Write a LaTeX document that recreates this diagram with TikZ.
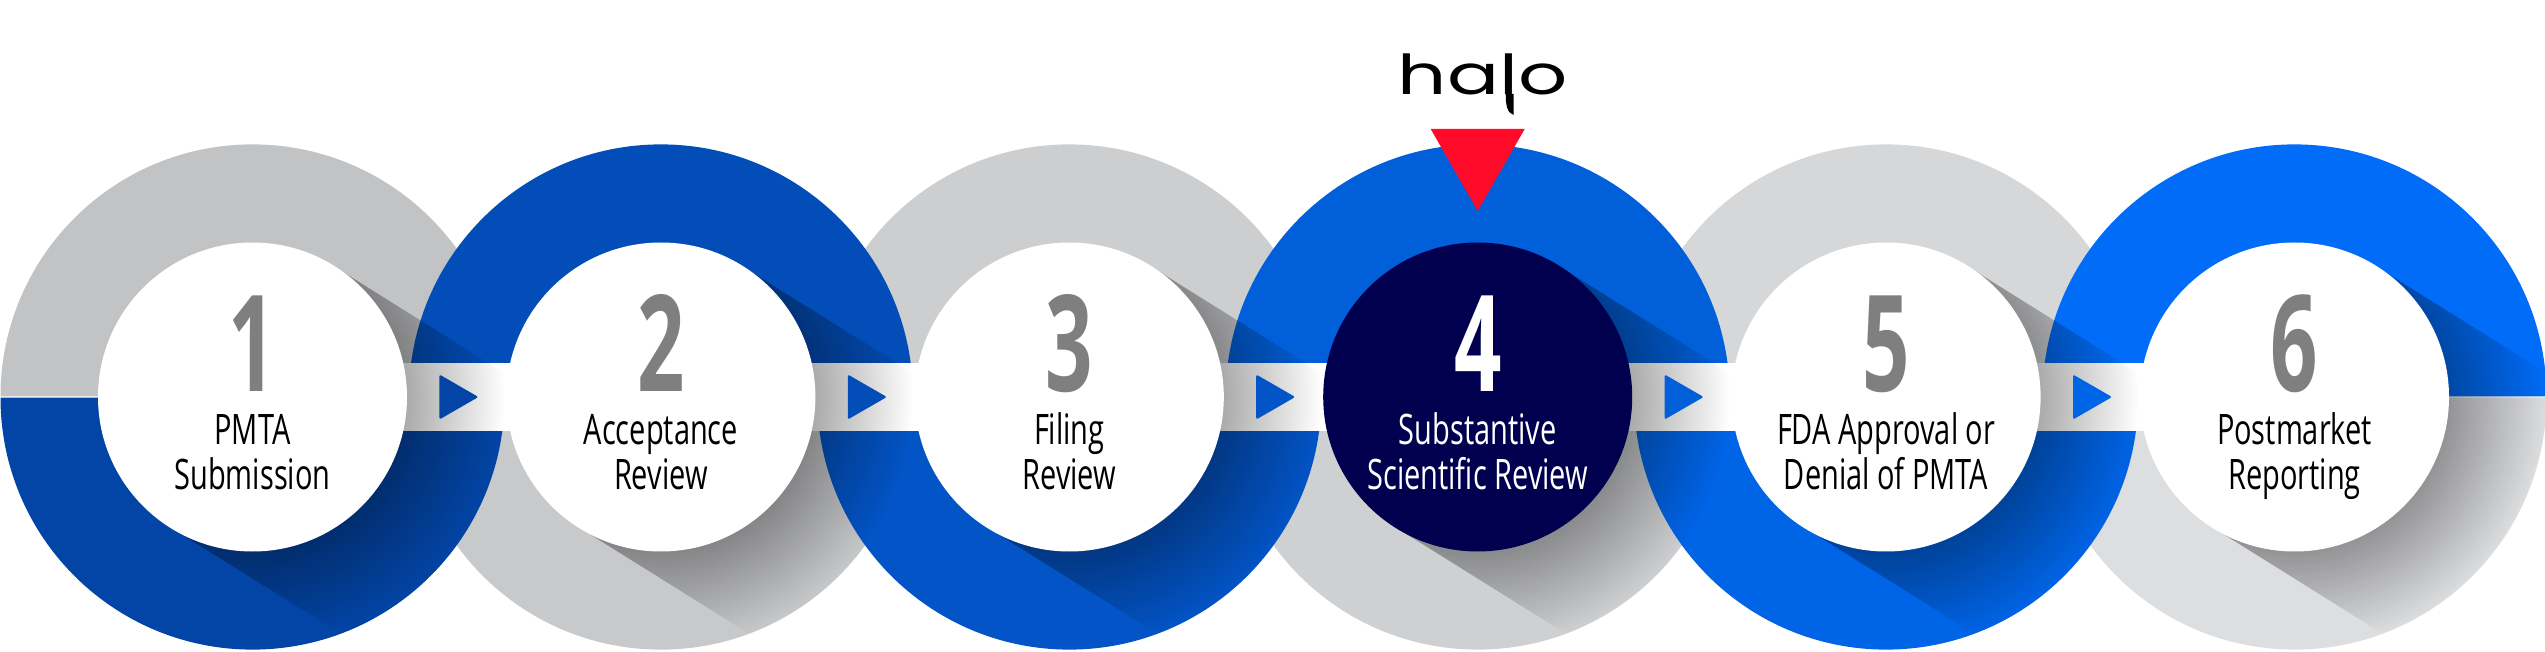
\documentclass[tikz,border=0pt]{standalone}
\usepackage{fontspec}
\usetikzlibrary{positioning,shapes.geometric,backgrounds,fadings}
\newfontfamily\labelfont[FakeStretch=0.69]{Open Sans}
\newfontfamily\numberfont[FakeStretch=0.62]{Open Sans Bold}
\newfontfamily\logofont[FakeStretch=1.4]{Poppins}
\definecolor{grayA}{HTML}{C2C3C5}
\definecolor{grayB}{HTML}{C8C9CB}
\definecolor{grayC}{HTML}{CDCED0}
\definecolor{grayD}{HTML}{CFD0D2}
\definecolor{grayE}{HTML}{D6D7D9}
\definecolor{grayF}{HTML}{DDDEE0}
\definecolor{blueA}{HTML}{0345A6}
\definecolor{blueB}{HTML}{034DB8}
\definecolor{blueC}{HTML}{0354C6}
\definecolor{blueD}{HTML}{005FD9}
\definecolor{blueE}{HTML}{0064E6}
\definecolor{blueF}{HTML}{006CF8}
\definecolor{navy}{HTML}{00004F}
\definecolor{marker}{HTML}{FF0A28}
\definecolor{numgray}{HTML}{7F7F7F}
\pgfdeclareradialshading{ringshade}{\pgfpointorigin}{
  color(0bp)=(pgftransparent!67);
  color(15.3bp)=(pgftransparent!67);
  color(25bp)=(pgftransparent!100);
  color(50bp)=(pgftransparent!100)}
\pgfdeclarefading{ringfade}{\pgfuseshading{ringshade}}
\newcommand{\halfup}[2]{\fill[#2] ([shift={(252pt,0.6pt)}]#1.center) arc (0:180:252pt) -- cycle;}
\newcommand{\halfdown}[2]{\fill[#2] ([shift={(252pt,-0.6pt)}]#1.center) arc (0:-180:252pt) -- cycle;}
\newcommand{\ringshadow}[1]{%
  \begin{scope}
    \clip (#1.center) ++(58:154pt) -- ++(-32:420pt) -- ++(-122:308pt) -- ++(148:420pt) -- cycle;
    \fill[black, path fading=ringfade] (#1.center) circle (252pt);
  \end{scope}}
\tikzset{
  stepcircle/.style={
    circle,
    fill=white,
    inner sep=0pt,
    minimum size=309pt
  },
  stepnum/.style={
    anchor=base,
    inner sep=0pt,
    text=numgray,
    font=\numberfont\fontsize{134}{134}\selectfont
  },
  steplabel/.style={
    anchor=base,
    inner sep=0pt,
    align=center,
    font=\labelfont\fontsize{42}{45}\selectfont
  },
  flowtip/.style={
    isosceles triangle,
    isosceles triangle stretches,
    rounded corners=2pt,
    inner sep=0pt,
    minimum width=45pt,
    minimum height=39pt
  },
  band/.style={
    fill=white
  }
}
\begin{document}
\begin{tikzpicture}[x=1pt,y=1pt]
  \useasboundingbox (0,0) rectangle (2545,651);

  \node[stepcircle] (c1) at (252.5,254) {};
  \node[stepcircle, right=99pt of c1] (c2) {};
  \node[stepcircle, right=99pt of c2] (c3) {};
  \node[stepcircle, right=99pt of c3, fill=navy] (c4) {};
  \node[stepcircle, right=99pt of c4] (c5) {};
  \node[stepcircle, right=99pt of c5] (c6) {};

  \node[flowtip, fill=blueA, right=32pt of c1] (t1) {};
  \node[flowtip, fill=blueB, right=32pt of c2] (t2) {};
  \node[flowtip, fill=blueC, right=32pt of c3] (t3) {};
  \node[flowtip, fill=blueD, right=32pt of c4] (t4) {};
  \node[flowtip, fill=blueE, right=32pt of c5] (t5) {};

  \node[stepnum] (n1) at ([yshift=5pt]c1.center) {1};
  \node[stepnum] (n2) at ([yshift=5pt]c2.center) {2};
  \node[stepnum] (n3) at ([yshift=5pt]c3.center) {3};
  \node[stepnum, text=white] (n4) at ([yshift=5pt]c4.center) {4};
  \node[stepnum] (n5) at ([yshift=5pt]c5.center) {5};
  \node[stepnum] (n6) at ([yshift=5pt]c6.center) {6};

  \node[steplabel] (l1) at ([yshift=-92pt]c1.center) {PMTA\\Submission};
  \node[steplabel] (l2) at ([yshift=-92pt]c2.center) {Acceptance\\Review};
  \node[steplabel] (l3) at ([yshift=-92pt]c3.center) {Filing\\Review};
  \node[steplabel, text=white] (l4) at ([yshift=-92pt]c4.center) {Substantive\\Scientific Review};
  \node[steplabel] (l5) at ([yshift=-92pt]c5.center) {FDA Approval or\\Denial of PMTA};
  \node[steplabel] (l6) at ([yshift=-92pt]c6.center) {Postmarket\\Reporting};

  \fill[marker] ([shift={(-47pt,268pt)}]c4.center) -- ([shift={(47pt,268pt)}]c4.center) -- ([shift={(0pt,186pt)}]c4.center) -- cycle;
  \node[anchor=base, inner sep=0pt, font=\logofont\fontsize{55}{55}\selectfont] (logo) at ([shift={(5pt,302pt)}]c4.center) {halo};
  % tail of the l
  \fill ([shift={(28pt,303pt)}]c4.center) .. controls ([shift={(28pt,290pt)}]c4.center) and ([shift={(30pt,284pt)}]c4.center) .. ([shift={(36pt,282pt)}]c4.center) -- ([shift={(36pt,303pt)}]c4.center) -- cycle;

  \begin{scope}[on background layer]
    \halfup{c1}{grayA}
    \halfdown{c2}{grayB}
    \halfup{c3}{grayC}
    \halfdown{c4}{grayD}
    \halfup{c5}{grayE}
    \halfdown{c6}{grayF}
    \halfdown{c1}{blueA}
    \halfup{c2}{blueB}
    \halfdown{c3}{blueC}
    \halfup{c4}{blueD}
    \halfdown{c5}{blueE}
    \halfup{c6}{blueF}

    \fill[band] ([yshift=34pt]c1.center) rectangle ([yshift=-34pt]c2.center);
    \fill[band] ([yshift=34pt]c2.center) rectangle ([yshift=-34pt]c3.center);
    \fill[band] ([yshift=34pt]c3.center) rectangle ([yshift=-34pt]c4.center);
    \fill[band] ([yshift=34pt]c4.center) rectangle ([yshift=-34pt]c5.center);
    \fill[band] ([yshift=34pt]c5.center) rectangle ([yshift=-34pt]c6.center);

    \ringshadow{c1}
    \ringshadow{c2}
    \ringshadow{c3}
    \ringshadow{c4}
    \ringshadow{c5}
    \ringshadow{c6}
  \end{scope}
\end{tikzpicture}
\end{document}
